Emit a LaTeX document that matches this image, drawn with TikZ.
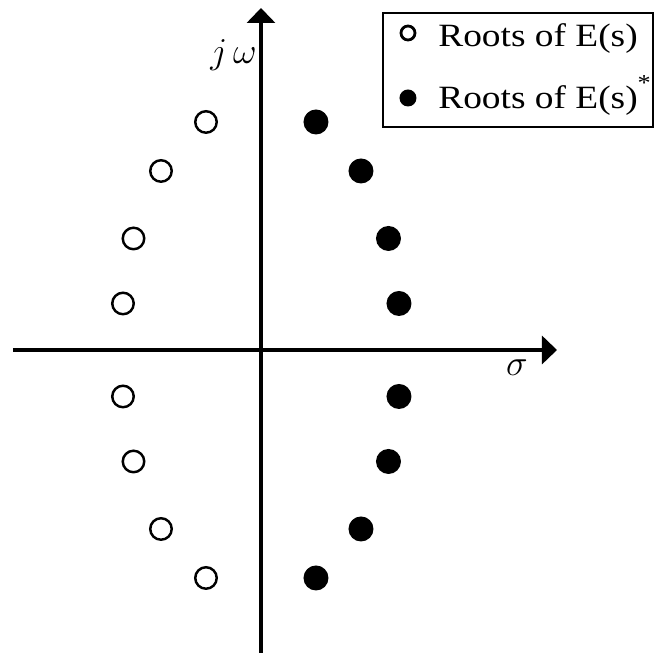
\documentclass[tikz,border=0pt]{standalone}
\usepackage{fontspec}
\setmainfont{Liberation Serif}[FakeStretch=1.15]
\usepackage{tikz}
\usetikzlibrary{arrows.meta}

\begin{document}
\begin{tikzpicture}[
    openroot/.style={draw, line width=1.4pt},
    fullroot/.style={fill=black},
    axisline/.style={line width=1.9pt, -{Triangle[length=0.3cm, width=0.56cm]}},
    legtext/.style={anchor=base west, inner sep=0pt, font=\fontsize{18.5}{20}\selectfont}]
  \useasboundingbox (-5.22,-6.06) rectangle (7.96,7.0);
  % axes
  \coordinate (xl) at (-4.96,0);
  \coordinate (xr) at (5.92,0);
  \coordinate (yb) at (0,-6.06);
  \coordinate (yt) at (0,6.84);
  \draw[axisline] (xl) -- (xr);
  \draw[axisline] (yb) -- (yt);
  \node[font=\fontsize{21}{22}\selectfont] (jw) at (-0.55,5.9) {$j\,\omega$};
  \node[font=\fontsize{20}{21}\selectfont] (sig) at (5.12,-0.36) {$\sigma$};
  % roots, mirrored in both axes
  \foreach \x/\y in {1.1/4.56, 2.0/3.58, 2.55/2.23, 2.76/0.93} {
    \foreach \s in {1,-1} {
      \draw[openroot] (-\x,\s*\y) circle (0.215);
      \fill[fullroot] (\x,\s*\y) circle (0.25);
    }
  }
  % legend
  \draw[line width=0.6pt] (2.44,4.46) rectangle (7.84,6.74);
  \draw[openroot, line width=1.6pt] (2.94,6.34) circle (0.14);
  \fill[fullroot] (2.94,5.04) circle (0.17);
  \node[legtext] (leg1) at (3.54,6.07) {Roots of E(s)};
  \node[legtext] (leg2) at (3.54,4.83) {Roots of E(s)\textsuperscript{\raisebox{0.3em}{*}}};
\end{tikzpicture}
\end{document}
